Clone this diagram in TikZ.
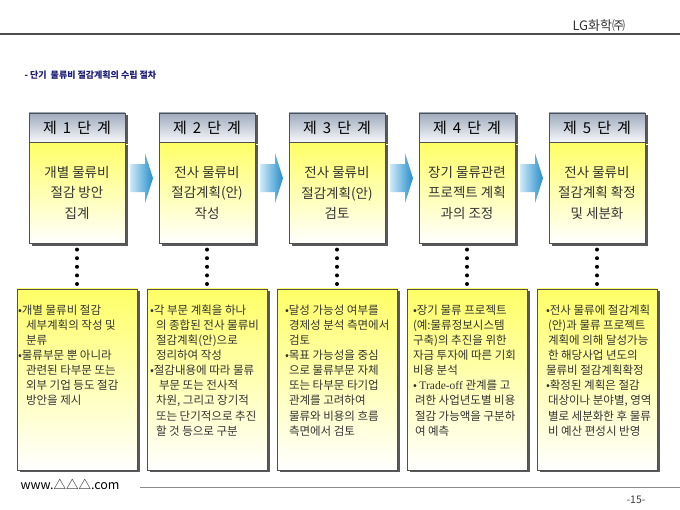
\documentclass[tikz,border=0pt]{standalone}
\usepackage{fontspec}
\setmainfont{Noto Sans CJK KR}
\newfontfamily\headfont{Noto Sans CJK KR}[WordSpace=1.8]
\newfontfamily\latinserif{Liberation Serif}
\usepackage{xcolor}
\usetikzlibrary{positioning}
\usetikzlibrary{calc}
\usetikzlibrary{shadows}

\definecolor{headgray}{RGB}{158,170,188}
\definecolor{headlight}{RGB}{246,247,250}
\definecolor{noteyellow}{RGB}{255,255,102}
\definecolor{flowblue}{RGB}{38,142,204}
\definecolor{flowlight}{RGB}{208,234,247}
\definecolor{titleblue}{RGB}{28,28,120}
\definecolor{framegray}{RGB}{80,80,80}

\begin{document}
\begin{tikzpicture}[x=1pt,y=-1pt,node distance=130pt,
    box shadow/.style={drop shadow={shadow xshift=2.5pt,shadow yshift=-2.5pt,fill=black!65,opacity=1}},
    stage head/.style={draw=framegray,top color=headgray,bottom color=headlight,
        minimum width=96pt,minimum height=29pt,inner sep=0pt,box shadow,
        font=\headfont\fontsize{15}{15}\selectfont},
    stage body/.style={draw=framegray,top color=noteyellow,bottom color=white,
        minimum width=96pt,minimum height=101pt,inner sep=0pt,align=center,box shadow,
        text=black!80,font=\fontsize{13.5}{20.5}\selectfont},
    note box/.style={draw=framegray,top color=noteyellow,bottom color=white,
        minimum width=120pt,minimum height=181pt,inner sep=0pt,box shadow},
    note text/.style={anchor=north west,align=left,inner xsep=1pt,inner ysep=16pt,
        text=black!80,font=\fontsize{11.5}{15.1}\selectfont},
    dot line/.style={line width=4pt,line cap=round,dash pattern=on 0pt off 8.6pt,
        shorten <=6pt,shorten >=4pt},
    flow arrow/.style={left color=flowlight,right color=flowblue}]

\fill[white] (0,0) rectangle (680,510);
\useasboundingbox (0,0) rectangle (680,510);

% page header and footer
\node[anchor=base west,font=\fontsize{13}{13}\selectfont,text=black!80] (company) at (569,31) {LG화학㈜};
\draw[line width=1.5pt,black!70] (0,34) -- (680,34);
\node[anchor=west,font=\bfseries\fontsize{9}{9}\selectfont,text=titleblue] (title) at (21,75) {- 단기~ 물류비 절감계획의 수립 절차};
\node[anchor=base west,font=\fontsize{12.5}{12.5}\selectfont] (site) at (17,489) {www.△△△.com};
\draw[line width=1pt,black!45] (140,487) -- (680,487);
\node[anchor=base east,font=\fontsize{10.5}{10.5}\selectfont,text=black!75] (page) at (649,503) {-15-};

% stages
\node[stage head] (h1) at (77,127.5) {제 1 단 계};
\node[stage head] (h2) [right of=h1] {제 2 단 계};
\node[stage head] (h3) [right of=h2] {제 3 단 계};
\node[stage head] (h4) [right of=h3] {제 4 단 계};
\node[stage head] (h5) [right of=h4] {제 5 단 계};

\node[stage body] (b1) [below=0pt of h1] {개별 물류비\\절감 방안\\집계};
\node[stage body] (b2) [below=0pt of h2] {전사 물류비\\절감계획(안)\\작성};
\node[stage body] (b3) [below=0pt of h3] {전사 물류비\\절감계획(안)\\검토};
\node[stage body] (b4) [below=0pt of h4] {장기 물류관련\\프로젝트 계획\\과의 조정};
\node[stage body] (b5) [below=0pt of h5] {전사 물류비\\절감계획 확정\\및 세분화};

\foreach \i/\j in {1/2,2/3,3/4,4/5}
  \shade[flow arrow] ($(h\i.north east)!0.5!(b\j.south west)$) ++(-12,-14) -- ++(15,0)
      -- ++(0,-11) -- ++(8,25) -- ++(-8,25) -- ++(0,-11) -- ++(-15,0) -- cycle;

% details
\foreach \i in {1,...,5}
  \node[note box] (d\i) [below=45pt of b\i] {};

\node[note text] (t1) at (d1.north west) {•개별 물류비 절감\\
  \hspace*{8pt}세부계획의 작성 및\\
  \hspace*{8pt}분류\\
  •물류부문 뿐 아니라\\
  \hspace*{8pt}관련된 타부문 또는\\
  \hspace*{8pt}외부 기업 등도 절감\\
  \hspace*{8pt}방안을 제시};
\node[note text,xshift=2pt] (t2) at (d2.north west) {•각 부문 계획을 하나\\
  \hspace*{6pt}의 종합된 전사 물류비\\
  \hspace*{6pt}절감계획(안)으로\\
  \hspace*{6pt}정리하여 작성\\
  •절감내용에 따라 물류\\
  \hspace*{9pt}부문 또는 전사적\\
  \hspace*{6pt}차원, 그리고 장기적\\
  \hspace*{6pt}또는 단기적으로 추진\\
  \hspace*{6pt}할 것 등으로 구분};
\node[note text,xshift=7pt] (t3) at (d3.north west) {•달성 가능성 여부를\\
  \hspace*{4pt}경제성 분석 측면에서\\
  \hspace*{4pt}검토\\
  •목표 가능성을 중심\\
  \hspace*{4pt}으로 물류부문 자체\\
  \hspace*{4pt}또는 타부문 타기업\\
  \hspace*{4pt}관계를 고려하여\\
  \hspace*{4pt}물류와 비용의 흐름\\
  \hspace*{4pt}측면에서 검토};
\node[note text,xshift=5pt] (t4) at (d4.north west) {•장기 물류 프로젝트\\
  (예:물류정보시스템\\
  구축)의 추진을 위한\\
  자금 투자에 따른 기회\\
  비용 분석\\
  • {\latinserif Trade-off} 관계를 고\\
  \hspace*{2pt}려한 사업년도별 비용\\
  \hspace*{2pt}절감 가능액을 구분하\\
  \hspace*{2pt}여 예측};
\node[note text,xshift=8pt] (t5) at (d5.north west) {•전사 물류에 절감계획\\
  \hspace*{2pt}(안)과 물류 프로젝트\\
  \hspace*{2pt}계획에 의해 달성가능\\
  \hspace*{2pt}한 해당사업 년도의\\
  물류비 절감계획확정\\
  •확정된 계획은 절감\\
  \hspace*{2pt}대상이나 분야별, 영역\\
  \hspace*{2pt}별로 세분화한 후 물류\\
  \hspace*{2pt}비 예산 편성시 반영};

\foreach \i in {1,...,5}
  \draw[dot line] (b\i.south) -- (d\i.north);

\end{tikzpicture}
\end{document}
